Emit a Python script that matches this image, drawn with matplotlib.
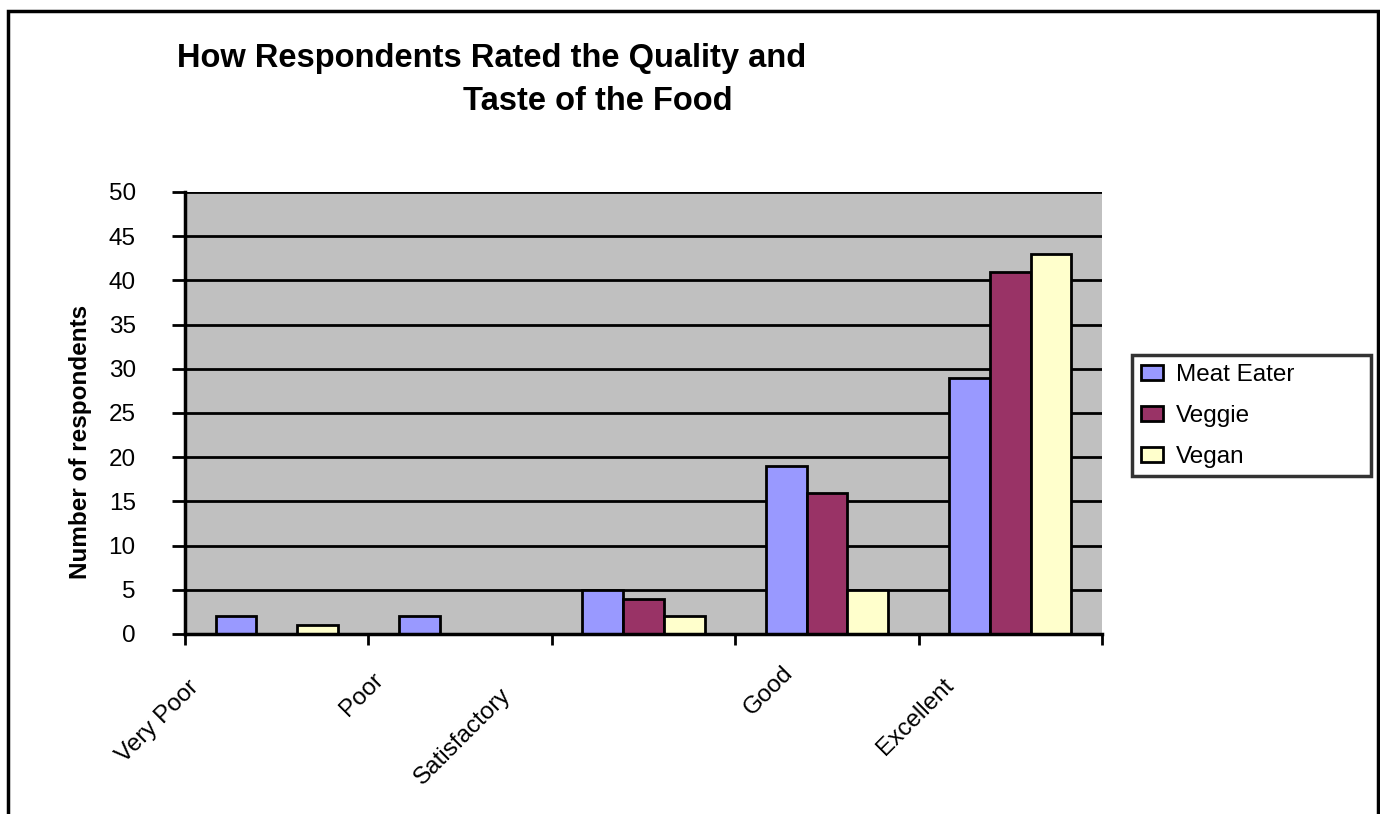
import matplotlib
matplotlib.use("Agg")
from matplotlib import pyplot as plt
from matplotlib.patches import Rectangle
import numpy as np

plt.rcParams["font.family"] = ["Liberation Sans", "DejaVu Sans"]

categories = ["Very Poor", "Poor", "Satisfactory", "Good", "Excellent"]
series_names = ["Meat Eater", "Veggie", "Vegan"]
meat_eater = [2, 2, 5, 19, 29]
veggie = [0, 0, 4, 16, 41]
vegan = [1, 0, 2, 5, 43]
y_ticks = list(range(0, 51, 5))

colors = ["#9999FF", "#993366", "#FFFFCC"]

fig = plt.figure(figsize=(13.8, 8.14), dpi=100)
ax = fig.add_axes([185 / 1380, 1 - 634 / 814, (1102 - 185) / 1380, (634 - 192) / 814])
ax.set_facecolor("#C0C0C0")

x = np.arange(len(categories))
w = 1 / 4.5
for j, (vals, name) in enumerate(zip([meat_eater, veggie, vegan], series_names)):
    ax.bar(x + (j - 1) * w, vals, width=w, color=colors[j], edgecolor="black",
           linewidth=2.0, label=name, zorder=3)

ax.set_xlim(-0.5, len(categories) - 0.5)
ax.set_ylim(0, 50)
ax.set_yticks(y_ticks)
ax.yaxis.grid(True, color="black", linewidth=2.0, zorder=1)
ax.set_axisbelow(True)
ax.tick_params(axis="y", labelsize=17.5, length=9.5, width=2.0, direction="out", pad=26)

# category boundaries get the ticks, labels are placed by hand like excel does
ax.set_xticks(np.arange(len(categories) + 1) - 0.5)
ax.set_xticklabels([])
ax.tick_params(axis="x", length=8, width=2.0, direction="out")

label_offsets = [(-119, -88), (-98, -61), (-181, -103), (-58, -57), (-95, -83)]
for i, (cat, off) in enumerate(zip(categories, label_offsets)):
    ax.annotate(cat, xy=(i, 0), xycoords="data", xytext=off, textcoords="offset pixels",
                rotation=45, ha="center", va="center", fontsize=17.5, annotation_clip=False)

for side in ["top", "right"]:
    ax.spines[side].set_visible(False)
for side in ["left", "bottom"]:
    ax.spines[side].set_linewidth(2.5)
    ax.spines[side].set_zorder(4)

ax.set_ylabel("Number of respondents", fontsize=17.5, fontweight="bold")
ax.yaxis.set_label_coords(-93 / 917, 0.434)

fig.text(177 / 1380, 1 - 59 / 814, "How Respondents Rated the Quality and",
         fontsize=23.5, fontweight="bold", ha="left", va="center")
fig.text(463 / 1380, 1 - 102 / 814, "Taste of the Food",
         fontsize=23.5, fontweight="bold", ha="left", va="center")

leg = fig.legend(loc="upper left",
                 bbox_to_anchor=(1132 / 1380, 1 - 472 / 814, 239 / 1380, 117 / 814),
                 mode="expand", fontsize=17.5, frameon=True, fancybox=False, shadow=False,
                 handlelength=0.9, handleheight=0.58, handletextpad=0.53,
                 labelspacing=0.78, borderpad=0.36, borderaxespad=0)
leg.get_frame().set_edgecolor("black")
leg.get_frame().set_linewidth(2.5)
for h in leg.legend_handles:
    h.set_linewidth(2.0)

# outer chart frame (bottom edge is cut off in the original)
frame = Rectangle((8 / 1380, -0.05), (1378 - 8) / 1380, 1.05 - 11 / 814,
                  transform=fig.transFigure, fill=False, edgecolor="black",
                  linewidth=2.5, clip_on=False)
fig.patches.append(frame)

fig.savefig("out.png", dpi=100)
